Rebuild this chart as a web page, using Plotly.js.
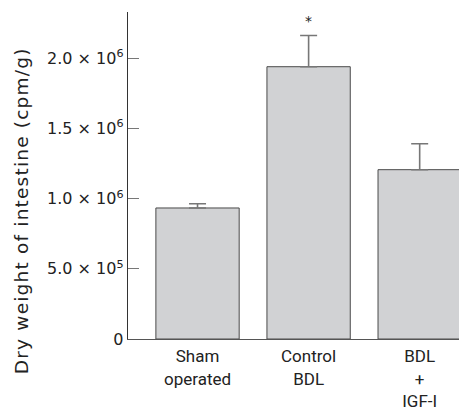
<!DOCTYPE html>
<html>
<head>
<meta charset="utf-8">
<script src="https://cdn.plot.ly/plotly-3.0.1.min.js"></script>
<style>html,body{margin:0;padding:0;background:#fff;}#chart{width:459px;height:407px;}</style>
</head>
<body>
<div id="chart"></div>
<script>
var categories = ["Sham<br>operated", "Control<br>BDL", "BDL<br>+<br>IGF-I"];
var values = [934000, 1941000, 1207000];
var errors = [30000, 223000, 185000];
var significance = ["", "*", ""];
var yTickVals = [0, 500000, 1000000, 1500000, 2000000];
var yTickText = ["0", "5.0 × 10<sup>5</sup>", "1.0 × 10<sup>6</sup>", "1.5 × 10<sup>6</sup>", "2.0 × 10<sup>6</sup>"];
var yTitle = "Dry weight of intestine (cpm/g)";

var xs = categories.map(function(c, i){ return i; });
var FONT_T = "'DejaVu Sans', sans-serif";
var FONT_X = "Roboto, 'DejaVu Sans', sans-serif";

var trace = {
  type: "bar",
  x: xs,
  y: values,
  width: 0.75,
  marker: {color: "#d1d2d4", line: {color: "#4a4a4a", width: 1}},
  error_y: {type: "data", array: errors, symmetric: false, arrayminus: errors.map(function(){return 0;}), color: "#777777", thickness: 1.6, width: 8.5},
  hoverinfo: "none"
};

var annotations = [{
  xref: "paper", yref: "paper", x: -0.321, y: 0.392,
  xanchor: "center", yanchor: "middle", textangle: -90,
  text: yTitle, showarrow: false,
  font: {family: FONT_T, size: 18.5, color: "#222"}
}];
significance.forEach(function(s, i){
  if (s) annotations.push({x: xs[i], y: values[i] + errors[i], xref: "x", yref: "y", text: s, showarrow: false, yshift: 14, font: {family: FONT_T, size: 14, color: "#222"}});
});

var layout = {
  width: 459, height: 407,
  margin: {l: 128, r: 0, t: 12, b: 68},
  paper_bgcolor: "#fff", plot_bgcolor: "#fff",
  showlegend: false,
  font: {family: FONT_T, color: "#222"},
  xaxis: {
    range: [-0.626, 2.354],
    tickvals: xs, ticktext: categories,
    ticks: "", showgrid: false, zeroline: false,
    showline: true, linecolor: "#555", linewidth: 1,
    ticklabelstandoff: 2,
    tickfont: {family: FONT_X, size: 17, color: "#222"},
    fixedrange: true
  },
  yaxis: {
    range: [0, 2331000],
    tickvals: yTickVals, ticktext: yTickText,
    ticks: "inside", ticklen: 11, tickcolor: "#777", tickwidth: 1,
    showgrid: false, zeroline: false,
    showline: true, linecolor: "#333", linewidth: 1.3,
    tickfont: {family: FONT_T, size: 16, color: "#222"},
    automargin: false,
    fixedrange: true
  },
  annotations: annotations
};

Plotly.newPlot("chart", [trace], layout, {displayModeBar: false, staticPlot: true}).then(function(gd){
  var t = gd.querySelector('.annotation[data-index="0"] text');
  if (t) t.style.letterSpacing = "1.2px";
});
</script>
</body>
</html>
